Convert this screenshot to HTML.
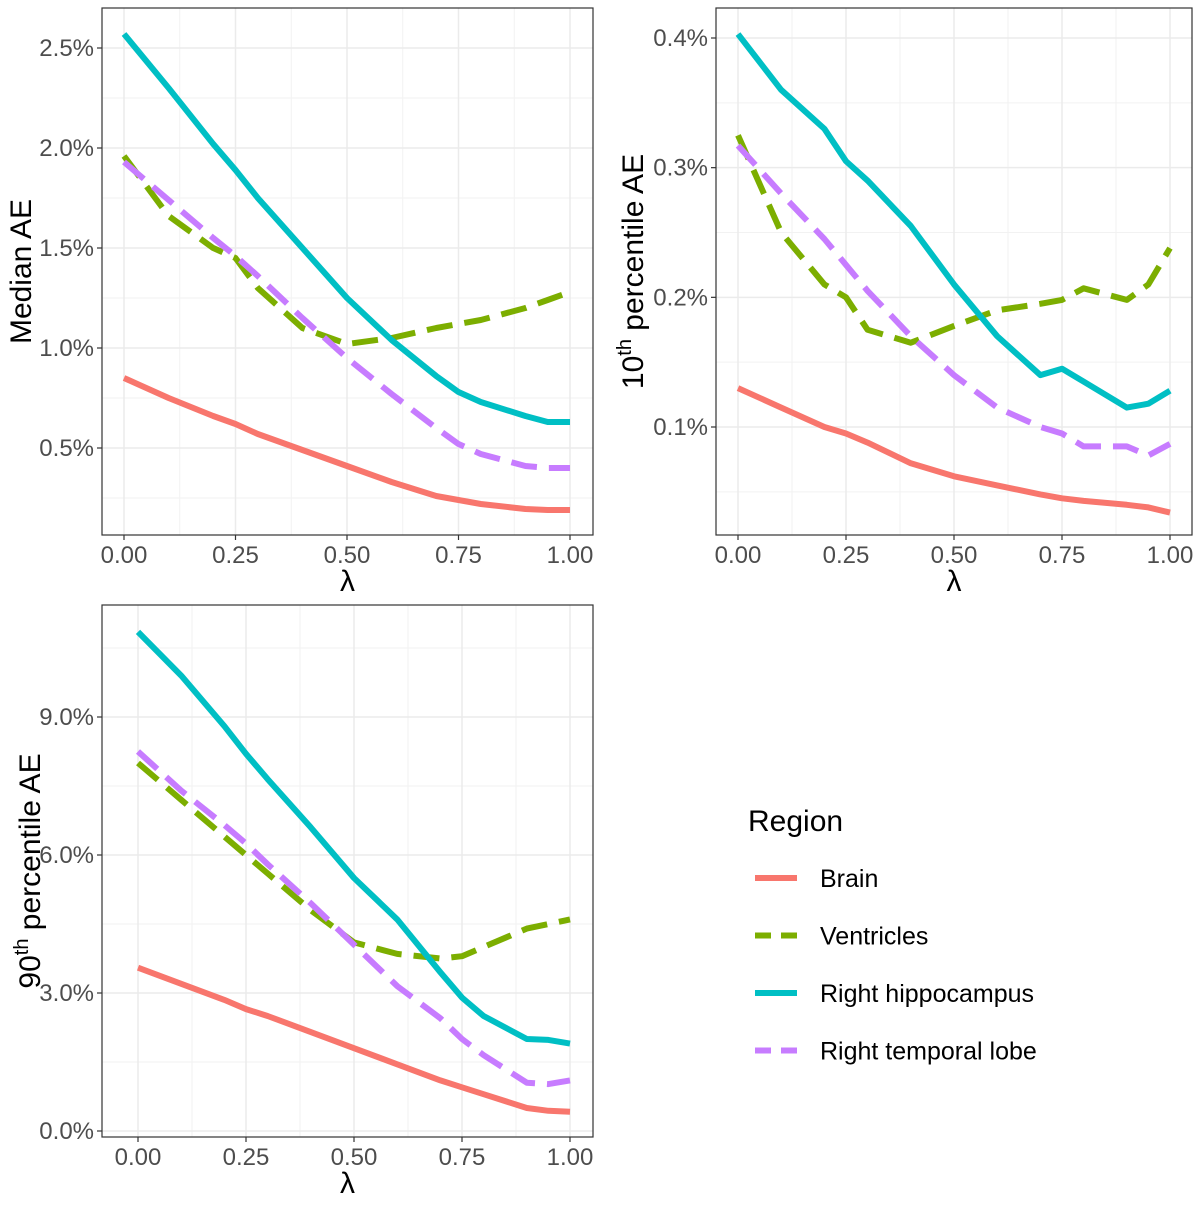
<!DOCTYPE html>
<html><head><meta charset="utf-8"><style>
body{margin:0;background:#fff;font-family:"Liberation Sans",sans-serif}
svg text{font-family:"Liberation Sans",sans-serif}
</style></head><body>
<svg id="c" width="1200" height="1200" xmlns="http://www.w3.org/2000/svg"></svg>
<script>
const lambdas=[0,0.1,0.2,0.25,0.3,0.4,0.5,0.6,0.7,0.75,0.8,0.9,0.95,1.0];
// Panel 1: Median AE (%)
const p1Brain=[0.85,0.75,0.66,0.62,0.57,0.49,0.41,0.33,0.26,0.24,0.22,0.195,0.19,0.19];
const p1Vent=[1.96,1.66,1.5,1.45,1.3,1.1,1.02,1.05,1.1,1.12,1.14,1.2,1.24,1.28];
const p1Hippo=[2.57,2.3,2.02,1.89,1.75,1.5,1.25,1.04,0.86,0.78,0.73,0.66,0.63,0.63];
const p1Temp=[1.93,1.74,1.55,1.46,1.36,1.15,0.95,0.77,0.6,0.52,0.47,0.41,0.40,0.40];
// Panel 2: 10th percentile AE (%)
const p2Brain=[0.13,0.115,0.1,0.095,0.088,0.072,0.062,0.055,0.048,0.045,0.043,0.04,0.038,0.034];
const p2Vent=[0.325,0.25,0.21,0.2,0.175,0.165,0.178,0.19,0.195,0.198,0.207,0.198,0.21,0.238];
const p2Hippo=[0.403,0.36,0.33,0.305,0.29,0.255,0.21,0.17,0.14,0.145,0.135,0.115,0.118,0.128];
const p2Temp=[0.317,0.28,0.245,0.225,0.205,0.17,0.14,0.115,0.10,0.095,0.085,0.085,0.078,0.087];
// Panel 3: 90th percentile AE (%)
const p3Brain=[3.55,3.2,2.85,2.65,2.5,2.15,1.8,1.45,1.1,0.95,0.8,0.5,0.44,0.42];
const p3Vent=[8.0,7.2,6.4,6.0,5.6,4.8,4.1,3.85,3.75,3.8,4.0,4.4,4.5,4.6];
const p3Hippo=[10.85,9.9,8.8,8.2,7.65,6.6,5.5,4.6,3.45,2.9,2.5,2.0,1.98,1.9];
const p3Temp=[8.25,7.4,6.65,6.25,5.8,4.95,4.05,3.15,2.45,2.0,1.65,1.05,1.02,1.1];

const p1Ticks=[0.5,1.0,1.5,2.0,2.5], p1Labels=["0.5%","1.0%","1.5%","2.0%","2.5%"];
const p2Ticks=[0.1,0.2,0.3,0.4], p2Labels=["0.1%","0.2%","0.3%","0.4%"];
const p3Ticks=[0,3,6,9], p3Labels=["0.0%","3.0%","6.0%","9.0%"];
const xTicks=[0,0.25,0.5,0.75,1.0], xLabels=["0.00","0.25","0.50","0.75","1.00"];
const seriesNames=["Brain","Ventricles","Right hippocampus","Right temporal lobe"];

const colors=["#F8766D","#7CAE00","#00BFC4","#C77CFF"];
const dashes=[null,"26,12",null,"26,12"];
const NS="http://www.w3.org/2000/svg";
const svg=document.getElementById('c');
function el(tag,attrs,parent){const e=document.createElementNS(NS,tag);for(const k in attrs)e.setAttribute(k,attrs[k]);(parent||svg).appendChild(e);return e;}

function panel(cfg){
  const g=el('g',{});
  
  
  const {L,R,T,B,x0,x1,yv0,yp0,yv1,yp1}=cfg;
  const sx=v=>x0+(x1-x0)*v;
  const sy=v=>yp0+(yp1-yp0)*(v-yv0)/(yv1-yv0);
  cfg.minorY.forEach(v=>{const y=sy(v);if(y>T&&y<B)el('line',{x1:L,x2:R,y1:y,y2:y,stroke:'#F2F2F2','stroke-width':1},g);});
  [0.125,0.375,0.625,0.875].forEach(v=>{const x=sx(v);el('line',{x1:x,x2:x,y1:T,y2:B,stroke:'#F2F2F2','stroke-width':1},g);});
  cfg.ticks.forEach(v=>{const y=sy(v);el('line',{x1:L,x2:R,y1:y,y2:y,stroke:'#EBEBEB','stroke-width':1.5},g);});
  xTicks.forEach(v=>{const x=sx(v);el('line',{x1:x,x2:x,y1:T,y2:B,stroke:'#EBEBEB','stroke-width':1.5},g);});
  el('rect',{x:L,y:T,width:R-L,height:B-T,fill:'none',stroke:'#333','stroke-width':1.2},g);
  cfg.ticks.forEach((v,i)=>{const y=sy(v);
    el('line',{x1:L-5,x2:L,y1:y,y2:y,stroke:'#333','stroke-width':1.2},g);
    const t=el('text',{x:L-8,y:y+8,'text-anchor':'end','font-size':24,fill:'#4D4D4D'},g);t.textContent=cfg.labels[i];
    
    
  });
  xTicks.forEach((v,i)=>{const x=sx(v);
    el('line',{x1:x,x2:x,y1:B,y2:B+5,stroke:'#333','stroke-width':1.2},g);
    const t=el('text',{x:x,y:B+28,'text-anchor':'middle','font-size':24,fill:'#4D4D4D'},g);t.textContent=xLabels[i];
    
    
  });
  const xt=el('text',{x:(L+R)/2,y:B+56,'text-anchor':'middle','font-size':30,fill:'#000'},g);xt.textContent='λ';
  
  
  const yt=el('text',{transform:`translate(${cfg.ytx},${(T+B)/2}) rotate(-90)`,'text-anchor':'middle','font-size':30,fill:'#000'},g);
  
  
  if(cfg.sup){yt.innerHTML=`${cfg.pre}<tspan font-size="20" dy="-12">th</tspan><tspan dy="12"> percentile AE</tspan>`;}
  else yt.textContent=cfg.title;
  cfg.series.forEach((s,i)=>{
    const d=s.map((v,j)=>(j?'L':'M')+sx(lambdas[j]).toFixed(1)+','+sy(v).toFixed(1)).join(' ');
    const p=el('path',{d:d,fill:'none',stroke:colors[i],'stroke-width':6,'stroke-linejoin':'round'},g);
    if(dashes[i])p.setAttribute('stroke-dasharray',dashes[i]);
    
    
  });
}
panel({name:'median-ae-panel',L:102,R:593,T:8,B:535,x0:124,x1:570,yv0:0,yp0:548,yv1:2.5,yp1:48,
  ticks:p1Ticks,labels:p1Labels,minorY:[0.25,0.75,1.25,1.75,2.25],ytx:31,title:'Median AE',
  series:[p1Brain,p1Vent,p1Hippo,p1Temp]});
panel({name:'p10-ae-panel',L:716,R:1192,T:8,B:535,x0:738,x1:1170,yv0:0.1,yp0:427,yv1:0.4,yp1:38,
  ticks:p2Ticks,labels:p2Labels,minorY:[0.05,0.15,0.25,0.35],ytx:643,sup:true,pre:'10',
  series:[p2Brain,p2Vent,p2Hippo,p2Temp]});
panel({name:'p90-ae-panel',L:102,R:593,T:605,B:1137,x0:138,x1:570,yv0:0,yp0:1131,yv1:9,yp1:717,
  ticks:p3Ticks,labels:p3Labels,minorY:[1.5,4.5,7.5,10.5],ytx:40,sup:true,pre:'90',
  series:[p3Brain,p3Vent,p3Hippo,p3Temp]});

const lg=el('g',{});


const lt=el('text',{x:748,y:831,'font-size':30,fill:'#000'},lg);lt.textContent='Region';


seriesNames.forEach((n,i)=>{
  const y=878+i*57.5;
  const ln=el('line',{x1:755,x2:797,y1:y,y2:y,stroke:colors[i],'stroke-width':6},lg);
  if(dashes[i])ln.setAttribute('stroke-dasharray','16,10');
  const t=el('text',{x:820,y:y+9,'font-size':25,fill:'#000'},lg);t.textContent=n;
  
  
});
</script>
</body></html>
